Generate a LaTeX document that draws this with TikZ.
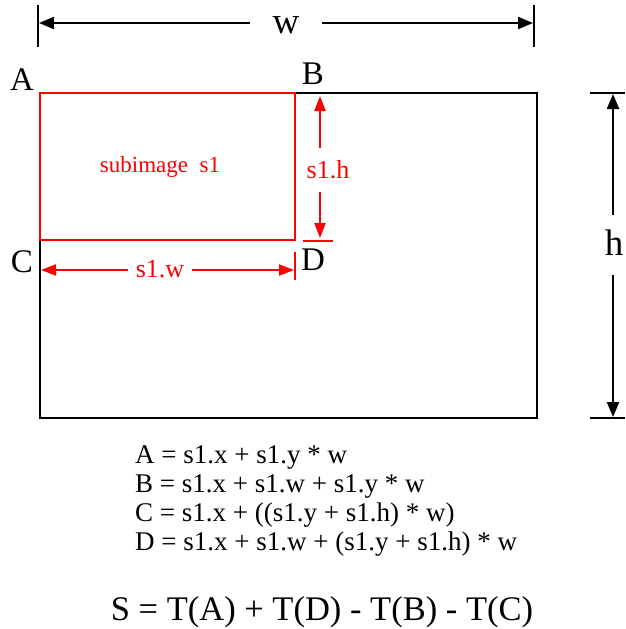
\documentclass[tikz,border=0pt]{standalone}
\usepackage{fontspec}
\setmainfont{Liberation Serif}
\usetikzlibrary{arrows.meta}
\definecolor{pured}{RGB}{255,0,0}
\begin{document}
\begin{tikzpicture}[x=1pt,y=-1pt,
  blk/.style={line width=2.6pt,black},
  redl/.style={line width=2.6pt,draw=pured},
  dimb/.style={line width=2.2pt,-{Triangle[length=15pt,width=12pt]}},
  dimr/.style={line width=2.2pt,draw=pured,-{Triangle[length=15pt,width=11pt]}},
  lbl/.style={inner sep=0pt,anchor=base,font=\fontsize{33}{33}\selectfont},
  big/.style={inner sep=0pt,anchor=base,font=\fontsize{37}{37}\selectfont},
  rlbl/.style={inner sep=0pt,anchor=base,text=pured,font=\fontsize{26}{26}\selectfont},
  fml/.style={inner sep=0pt,anchor=base west,font=\fontsize{27}{27}\selectfont}]
\useasboundingbox (0,0) rectangle (625,629);
% main image
\draw[blk] (40,93) rectangle (537,418);
\draw[redl] (40,93) rectangle (295,240);
% w dimension
\coordinate (wl) at (39,23);
\coordinate (wr) at (533,23);
\coordinate (wle) at (250,23);
\coordinate (wre) at (322,23);
\draw[blk] (38,5) -- (38,47);
\draw[blk] (534,5) -- (534,47);
\node[big] (w) at (286,33) {w};
\draw[dimb] (wle) -- (wl);
\draw[dimb] (wre) -- (wr);
% h dimension
\coordinate (ht) at (613,94);
\coordinate (hb) at (613,417);
\coordinate (hte) at (613,215);
\coordinate (hbe) at (613,275);
\draw[blk] (590,93) -- (625,93);
\draw[blk] (590,418) -- (625,418);
\node[big] (h) at (614,255) {h};
\draw[dimb] (hte) -- (ht);
\draw[dimb] (hbe) -- (hb);
% corner labels
\node[lbl] (A) at (22,90) {A};
\node[lbl] (B) at (313,84) {B};
\node[lbl] (C) at (22,272) {C};
\node[lbl] (D) at (313,270) {D};
% s1.h
\coordinate (sht) at (320,96);
\coordinate (shb) at (320,238);
\coordinate (shte) at (320,148);
\coordinate (shbe) at (320,192);
\draw[redl] (303,241) -- (333,241);
\node[rlbl] (sh) at (328,178) {s1.h};
\draw[dimr] (shte) -- (sht);
\draw[dimr] (shbe) -- (shb);
% s1.w
\coordinate (swl) at (41,270);
\coordinate (swr) at (294,270);
\coordinate (swle) at (128,270);
\coordinate (swre) at (192,270);
\draw[draw=pured,line width=2pt] (295,252) -- (295,280);
\node[rlbl] (sw) at (160,277) {s1.w};
\draw[dimr] (swle) -- (swl);
\draw[dimr] (swre) -- (swr);
% subimage label
\node[rlbl,font=\fontsize{23}{23}\selectfont] (sub) at (160,172) {subimage\ \ s1};
% formulas
\node[fml] (f1) at (135,463) {A = s1.x + s1.y * w};
\node[fml] (f2) at (135,492) {B = s1.x + s1.w + s1.y * w};
\node[fml] (f3) at (135,521) {C = s1.x + ((s1.y + s1.h) * w)};
\node[fml] (f4) at (135,550) {D = s1.x + s1.w + (s1.y + s1.h) * w};
\node[inner sep=0pt,anchor=base,font=\fontsize{34.5}{34.5}\selectfont] (S) at (322,620) {S = T(A) + T(D) - T(B) - T(C)};
\end{tikzpicture}
\end{document}
